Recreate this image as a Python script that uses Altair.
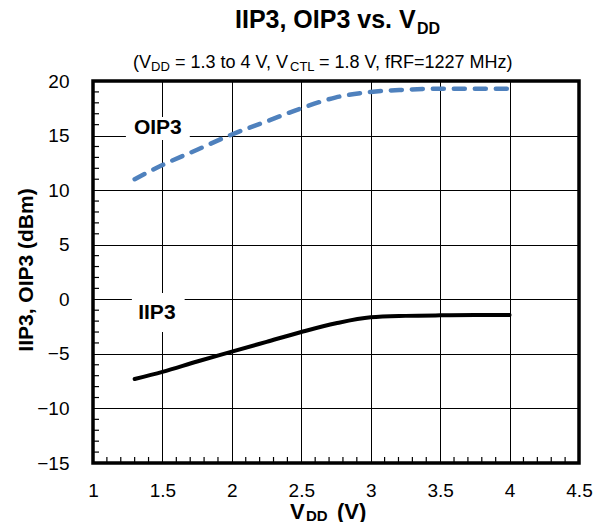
import altair as alt
import pandas as pd

# ---- data ----
vdd = [1.3, 1.5, 1.75, 2.0, 2.25, 2.5, 2.75, 3.0, 3.25, 3.5, 3.75, 4.0]
oip3 = [11.0, 12.3, 13.7, 15.1, 16.3, 17.5, 18.5, 19.0, 19.2, 19.3, 19.3, 19.3]
iip3 = [-7.3, -6.65, -5.7, -4.8, -3.9, -3.0, -2.2, -1.65, -1.52, -1.47, -1.45, -1.45]

x_ticks = [1, 1.5, 2, 2.5, 3, 3.5, 4, 4.5]
y_ticks = [-15, -10, -5, 0, 5, 10, 15, 20]
x_minor = [round(1 + i * 0.1, 1) for i in range(1, 35) if i % 5 != 0]
y_minor = [v for v in range(-14, 20) if v % 5 != 0]

label_names = ["OIP3", "IIP3"]
label_x = [1.467, 1.46]
label_y = [15.7, -1.25]
box_x1 = [1.237, 1.28]
box_x2 = [1.697, 1.66]
box_y1 = [14.6, -3.0]
box_y2 = [16.7, 0.58]

W, H = 486, 382
FONT = "Liberation Sans"

xs = alt.Scale(domain=[1, 4.5], nice=False, zero=False)
ys = alt.Scale(domain=[-15, 20], nice=False, zero=False)

df = pd.DataFrame({"vdd": vdd, "OIP3": oip3, "IIP3": iip3})
ann = pd.DataFrame({"name": label_names, "lx": label_x, "ly": label_y,
                    "x1": box_x1, "x2": box_x2, "y1": box_y1, "y2": box_y2})

base = alt.Chart(df)

axes = base.mark_point(opacity=0).encode(
    x=alt.X("vdd:Q", scale=xs,
            axis=alt.Axis(values=x_ticks, format="~g", title=None, grid=True,
                          gridColor="black", gridWidth=1, gridOpacity=1,
                          domain=False, ticks=False, labelPadding=18, labelFlush=False,
                          labelFontSize=19, labelColor="black", labelFont=FONT)),
    y=alt.Y("OIP3:Q", scale=ys,
            axis=alt.Axis(values=y_ticks, title=None, grid=True,
                          gridColor="black", gridWidth=1, gridOpacity=1,
                          domain=False, ticks=False, labelPadding=24, labelFlush=False,
                          labelFontSize=19, labelColor="black", labelFont=FONT)),
)

oip_line = base.mark_line(color="#4F81BD", strokeWidth=4.5, strokeDash=[11, 10],
                          strokeCap="round", interpolate="monotone").encode(
    x=alt.X("vdd:Q", scale=xs), y=alt.Y("OIP3:Q", scale=ys))
iip_line = base.mark_line(color="black", strokeWidth=4, strokeCap="round",
                          interpolate="monotone").encode(
    x=alt.X("vdd:Q", scale=xs), y=alt.Y("IIP3:Q", scale=ys))

boxes = alt.Chart(ann).mark_rect(color="white").encode(
    x=alt.X("x1:Q", scale=xs), x2="x2:Q",
    y=alt.Y("y1:Q", scale=ys), y2="y2:Q")
labels = alt.Chart(ann).mark_text(font=FONT, fontSize=21, fontWeight="bold",
                                  color="black", align="center", baseline="middle").encode(
    x=alt.X("lx:Q", scale=xs), y=alt.Y("ly:Q", scale=ys), text="name:N")

xm = alt.Chart(pd.DataFrame({"v": x_minor})).mark_rule(color="black", strokeWidth=1.2).encode(
    x=alt.X("v:Q", scale=xs), y=alt.value(H), y2=alt.value(H - 6))
ym = alt.Chart(pd.DataFrame({"v": y_minor})).mark_rule(color="black", strokeWidth=1.2).encode(
    y=alt.Y("v:Q", scale=ys), x=alt.value(0), x2=alt.value(6))

frame = alt.Chart(pd.DataFrame({"a": [0]})).mark_rect(
    filled=False, stroke="black", strokeWidth=3.5).encode(
    x=alt.value(0), x2=alt.value(W), y=alt.value(0), y2=alt.value(H))


def txt(s, x, y, size, bold=True, align="left", baseline="alphabetic", angle=0):
    kw = dict(font=FONT, fontSize=size, fontWeight="bold" if bold else "normal",
              color="black", align=align, baseline=baseline, text=s)
    if angle:
        kw["angle"] = angle
    return alt.Chart(pd.DataFrame({"a": [0]})).mark_text(**kw).encode(
        x=alt.value(x), y=alt.value(y))


texts = [
    txt("IIP3, OIP3 vs. V", 142, -53, 25),
    txt("DD", 324, -47, 16),
    txt("(V", 40, -13, 18, bold=False),
    txt("DD", 58, -10, 13, bold=False),
    txt("= 1.3 to 4 V, V", 82, -13, 18, bold=False),
    txt("CTL", 197, -10, 13, bold=False),
    txt("= 1.8 V, fRF=1227 MHz)", 226, -13, 18, bold=False),
    txt("IIP3, OIP3 (dBm)", -66, 189, 21, align="center", baseline="middle", angle=270),
    txt("V", 197, 438, 22),
    txt("DD", 213, 440, 15),
    txt("(V)", 244, 438, 22),
]

chart = alt.layer(axes, boxes, labels, oip_line, iip_line, xm, ym, frame, *texts).properties(
    width=W, height=H,
    autosize=alt.AutoSizeParams(type="none"),
    padding={"left": 85, "top": 73, "right": 16, "bottom": 59},
    background="white",
).configure_view(stroke=None)

chart.save("out.html", embed_options={"renderer": "svg", "actions": False})
